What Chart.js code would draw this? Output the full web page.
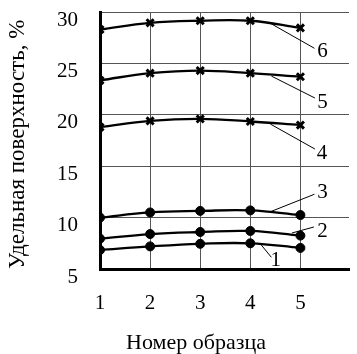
<!DOCTYPE html>
<html>
<head>
<meta charset="utf-8">
<script src="https://cdn.jsdelivr.net/npm/chart.js@4"></script>
<style>
html,body{margin:0;padding:0;background:#fff;}
#wrap{width:357px;height:354px;}
</style>
</head>
<body>
<div id="wrap"><canvas id="c" width="357" height="354"></canvas></div>
<script>
const categories = [1, 2, 3, 4, 5];
const series1 = [6.85, 7.2, 7.45, 7.5, 7.05];
const series2 = [7.95, 8.4, 8.6, 8.7, 8.25];
const series3 = [10.0, 10.5, 10.65, 10.7, 10.25];
const series4 = [18.8, 19.4, 19.6, 19.35, 19.0];
const series5 = [23.35, 24.05, 24.3, 24.05, 23.7];
const series6 = [28.3, 28.95, 29.15, 29.15, 28.45];
const seriesNames = ['1', '2', '3', '4', '5', '6'];
const yTickValues = [5, 10, 15, 20, 25, 30];
const xTitle = 'Номер образца';
const yTitle = 'Удельная поверхность, %';

const allSeries = [series1, series2, series3, series4, series5, series6];
const markerFor = ['circle', 'circle', 'circle', 'crossRot', 'crossRot', 'crossRot'];

// leader lines: from point on curve to label, label position (data coordinates)
const leaders = [
  {from: [4.22, 7.33], to: [4.42, 6.14], text: [4.51, 5.85]},
  {from: [4.83, 8.5], to: [5.27, 9.09], text: [5.44, 8.63]},
  {from: [4.40, 10.57], to: [5.28, 12.27], text: [5.44, 12.42]},
  {from: [4.40, 19.1], to: [5.29, 16.67], text: [5.43, 16.28]},
  {from: [4.42, 23.77], to: [5.29, 21.63], text: [5.44, 21.18]},
  {from: [4.38, 28.96], to: [5.28, 26.47], text: [5.44, 26.14]}
];

const SERIF = "'Liberation Serif', 'DejaVu Serif', serif";

const datasets = allSeries.map((s, i) => ({
  label: seriesNames[i],
  data: categories.map((c, j) => ({x: c, y: s[j]})),
  borderColor: '#000',
  backgroundColor: '#000',
  borderWidth: 2.3,
  tension: 0.4,
  pointStyle: markerFor[i],
  pointRadius: markerFor[i] === 'circle' ? 4.5 : 5,
  pointBorderWidth: markerFor[i] === 'circle' ? 1 : 3,
  pointBackgroundColor: '#000',
  pointBorderColor: '#000',
  fill: false
}));

const annot = {
  id: 'annot',
  afterDatasetsDraw(chart) {
    const ctx = chart.ctx;
    const xs = chart.scales.x, ys = chart.scales.y;
    ctx.save();
    ctx.strokeStyle = '#000';
    ctx.lineWidth = 1;
    ctx.fillStyle = '#000';
    ctx.font = '21px ' + SERIF;
    ctx.textAlign = 'center';
    ctx.textBaseline = 'middle';
    leaders.forEach((l, i) => {
      ctx.beginPath();
      ctx.moveTo(xs.getPixelForValue(l.from[0]), ys.getPixelForValue(l.from[1]));
      ctx.lineTo(xs.getPixelForValue(l.to[0]), ys.getPixelForValue(l.to[1]));
      ctx.stroke();
      ctx.fillText(seriesNames[i], xs.getPixelForValue(l.text[0]), ys.getPixelForValue(l.text[1]));
    });
    ctx.restore();
  },
  afterDraw(chart) {
    const ctx = chart.ctx;
    ctx.save();
    ctx.fillStyle = '#000';
    ctx.font = '22px ' + SERIF;
    ctx.textAlign = 'center';
    ctx.textBaseline = 'alphabetic';
    ctx.fillText(xTitle, 196, 349);
    ctx.restore();
  }
};

new Chart(document.getElementById('c'), {
  type: 'line',
  data: {datasets},
  plugins: [annot],
  options: {
    responsive: false,
    animation: false,
    layout: {padding: {top: 12, right: 0, bottom: 0, left: 0}},
    plugins: {legend: {display: false}, tooltip: {enabled: false}},
    scales: {
      x: {
        type: 'linear',
        min: 1,
        max: 5.97,
        afterBuildTicks(scale) { scale.ticks = categories.map(v => ({value: v})); },
        afterFit(scale) { scale.height = 85; scale.paddingLeft = 0; scale.paddingRight = 0; },
        grid: {color: '#555', lineWidth: 1, drawTicks: false},
        border: {color: '#000', width: 3},
        ticks: {
          color: '#000',
          font: {family: SERIF, size: 21},
          padding: 22,
          maxRotation: 0,
          callback: v => String(v)
        }
      },
      y: {
        min: 5,
        max: 30,
        afterBuildTicks(scale) { scale.ticks = yTickValues.map(v => ({value: v})); },
        afterFit(scale) { scale.width = 100; scale.paddingTop = 0; scale.paddingBottom = 0; },
        grid: {color: '#555', lineWidth: 1, drawTicks: false},
        border: {color: '#000', width: 3},
        title: {
          display: true,
          text: yTitle,
          align: 'start',
          color: '#000',
          font: {family: SERIF, size: 23},
          padding: {top: 4, bottom: 0}
        },
        ticks: {
          color: '#000',
          font: {family: SERIF, size: 21},
          padding: 22,
          labelOffset: 8,
          callback: v => String(v)
        }
      }
    }
  }
});
</script>
</body>
</html>
